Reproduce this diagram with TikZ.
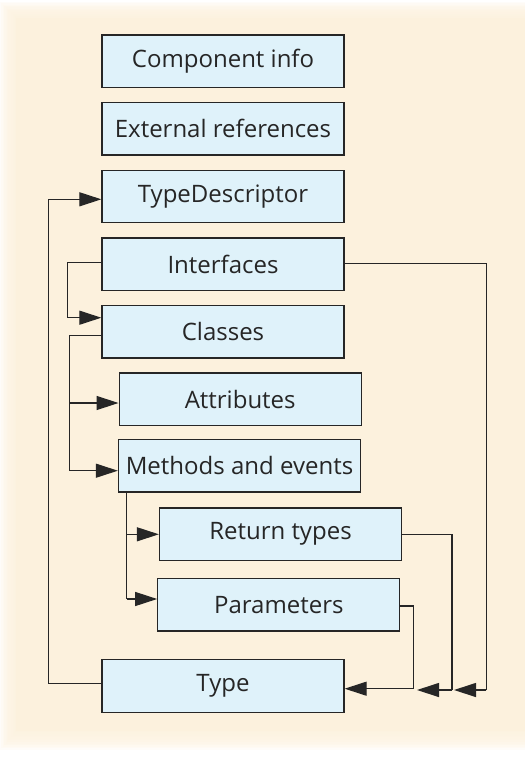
\documentclass[tikz,border=0pt]{standalone}
\usepackage{fontspec}
\setsansfont{Open Sans}
\usetikzlibrary{arrows.meta,calc}
\definecolor{cream}{RGB}{252,241,221}
\definecolor{boxfill}{RGB}{223,242,250}
\definecolor{ink}{RGB}{38,38,38}
\tikzset{
  item/.style={draw=ink, line width=1.3pt, fill=boxfill, minimum width=242pt,
    minimum height=52.5pt, inner sep=0pt, text=ink,
    font=\sffamily\fontsize{24}{28}\selectfont},
  link/.style={draw=ink, line width=1.2pt},
  tip/.style={link, -{Triangle[length=22pt,width=14pt]}}
}
\begin{document}
\begin{tikzpicture}[x=1pt,y=-1pt]
\useasboundingbox (0,0) rectangle (525,764);
% soft-edged paper panel
\foreach \i in {0,...,11}
  \fill[cream, opacity=0.18] (\i*1.4,2+\i*1.3) rectangle (540,750-\i*1.6);
\fill[cream] (16,18) rectangle (540,731);

% boxes
\node[item] (comp) at (223,61.3)   {Component info};
\node[item] (ext)  at (223,128.8)  {External references};
\node[item] (td)   at (223,196.5)  {TypeDescriptor};
\node[item] (intf) at (223,264.2)  {Interfaces};
\node[item] (cls)  at (223,331.7)  {Classes};
\node[item] (attr) at (240.2,399.2) {Attributes};
\node[item] (meth) at (239.5,465.7) {Methods and events};
\node[item] (ret)  at (280.5,534.3) {Return types};
\node[item] (par)  at (278.8,604.7) {Parameters};
\node[item] (type) at (223,686)    {Type};

% attachment points on the box sides
\coordinate (typeW) at ($(type.west)+(0,-2.3)$);
\coordinate (tdW)   at ($(td.west)+(0,2.8)$);
\coordinate (intfW) at ($(intf.west)+(0,-1.5)$);
\coordinate (clsIn) at ($(cls.west)+(0,-14)$);
\coordinate (clsOut) at ($(cls.west)+(0,4)$);
\coordinate (attrW) at ($(attr.west)+(0,3.8)$);
\coordinate (methW) at ($(meth.west)+(0,5)$);
\coordinate (methS) at ($(meth.south west)+(9,0)$);
\coordinate (retW)  at (ret.west);
\coordinate (parW)  at ($(par.west)+(0,-5.7)$);
\coordinate (intfE) at ($(intf.east)+(0,-0.9)$);
\coordinate (parE)  at ($(par.east)+(0,1.3)$);
\coordinate (typeE) at ($(type.east)+(0,2.7)$);
\coordinate (jr) at (452,690);
\coordinate (jp) at (413.7,690);

% Type refers back to TypeDescriptor
\draw[tip] (typeW) -- ++(-53,0) |- (tdW);

% Interfaces to Classes
\draw[tip] (intfW) -- ++(-33.7,0) |- (clsIn);

% Classes to attributes and methods
\draw[link] (clsOut) -- ++(-31.7,0) coordinate (cbus) -- (cbus |- methW);
\draw[tip] (cbus |- attrW) -- (attrW);
\draw[tip] (cbus |- methW) -- (methW);

% Methods to return types and parameters
\draw[link] (methS) -- (methS |- parW);
\draw[tip] (methS |- retW) -- (retW);
\draw[tip] (methS |- parW) -- (parW);

% Right-hand links down to Type
\draw[link] (parE) -- ++(13.4,0) coordinate (pc) -- (pc |- typeE);
\draw[tip] (pc |- typeE) -- (typeE);
\draw[link] (ret.east) -| (jr);
\draw[tip] (jr) -- ([xshift=3.3pt]jp);
\draw[link] (intfE) -- ++(141.7,0) coordinate (ic) -- (ic |- jr);
\draw[tip] (ic |- jr) -- ([xshift=2pt]jr);
\end{tikzpicture}
\end{document}
